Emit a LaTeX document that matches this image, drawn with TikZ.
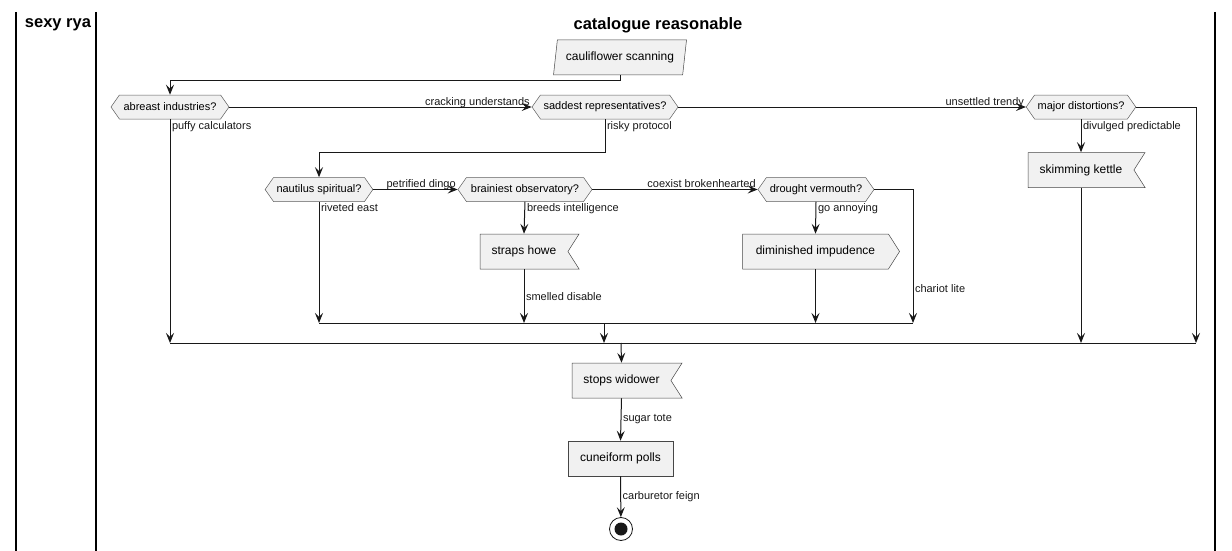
\documentclass[tikz,border=0pt]{standalone}
\usepackage{fontspec}
\setmainfont{Liberation Sans}
\usetikzlibrary{arrows.meta,shapes.geometric,shapes.symbols}
\definecolor{umlline}{HTML}{181818}
\definecolor{umlfill}{HTML}{F1F1F1}
\tikzset{
  font={\fontsize{11pt}{13pt}\selectfont},
  lane/.style={line width=1.5pt, black},
  lanetitle/.style={font={\fontsize{16.5pt}{18pt}\selectfont\bfseries}},
  flow/.style={umlline, line width=1pt, -{Stealth[length=10pt,width=8pt,inset=4pt]}},
  plain/.style={umlline, line width=1pt},
  choice/.style={signal, signal to=east and west, signal pointer angle=110, draw=umlline!70, fill=umlfill, line width=0.5pt, minimum height=24pt, inner xsep=3pt, inner ysep=0pt},
  act/.style={rectangle, draw=umlline!80, fill=umlfill, line width=0.5pt, minimum height=35pt, inner ysep=0pt, font={\fontsize{12pt}{14pt}\selectfont}},
  recv/.style={act, signal, signal to=nowhere, signal from=east, signal pointer angle=115},
  send/.style={act, signal, signal to=east, signal pointer angle=115},
  inbox/.style={act, trapezium, trapezium left angle=71, trapezium right angle=109, trapezium stretches body},
  lbl/.style={inner sep=1.5pt}
}
\begin{document}
\begin{tikzpicture}[x=1pt,y=-1pt]
\useasboundingbox (0,0) rectangle (1232,551);
\draw[lane] (16,12) -- (16,551);
\draw[lane] (96,12) -- (96,551);
\draw[lane] (1215,12) -- (1215,551);
\node[lanetitle] (lanea) at (58,25) {sexy rya};
\node[lanetitle] (laneb) at (658,25) {catalogue reasonable};

\node[inbox, minimum width=133pt] (scan) at (620,57.5) {cauliflower scanning};
\node[choice, minimum width=118pt] (abreast) at (170,107) {abreast industries?};
\node[choice, minimum width=146pt] (saddest) at (605,107) {saddest representatives?};
\node[choice, minimum width=108pt] (major) at (1081,107) {major distortions?};
\node[recv, minimum width=117pt] (kettle) at (1081,170) {skimming kettle};
\node[choice, minimum width=107pt] (nautilus) at (319,189.5) {nautilus spiritual?};
\node[choice, minimum width=134pt] (brainiest) at (525,189.5) {brainiest observatory?};
\node[choice, minimum width=116pt] (drought) at (816,189.5) {drought vermouth?};
\node[recv, minimum width=99pt] (straps) at (524,251.5) {straps howe};
\node[send, minimum width=157pt] (diminish) at (815.5,251.5) {diminished impudence};
\node[recv, minimum width=110pt] (widower) at (621.5,380.5) {stops widower};
\node[act, minimum width=105pt] (polls) at (620.5,458.5) {cuneiform polls};
\node[circle, draw=umlline, fill=white, line width=0.8pt, minimum size=23pt, inner sep=0pt] (stop) at (621,529) {};
\fill[umlline] (stop) circle (6.5);

\coordinate (joinin) at (604,323);
\coordinate (joinc) at (913,323);
\coordinate (joinout) at (621,343);
\coordinate (joinr) at (1196,343);

\draw[flow] (scan.south) -- ++(0,5) -| (abreast.north);
\draw[flow] (abreast.east) -- node[lbl, pos=1, anchor=base east, yshift=2pt] (lcrack) {cracking understands} (saddest.west);
\draw[flow] (abreast.south) -- node[lbl, pos=0, anchor=north west] (lpuffy) {puffy calculators} (abreast.south |- joinout);
\draw[flow] (saddest.south) -- node[lbl, pos=0, anchor=north west] (lrisky) {risky protocol} ++(0,33) -| (nautilus.north);
\draw[flow] (saddest.east) -- node[lbl, pos=1, anchor=base east, yshift=2pt] (ltrendy) {unsettled trendy} (major.west);
\draw[flow] (major.east) -| (joinr);
\draw[flow] (major.south) -- node[lbl, pos=0, anchor=north west] (ldivulge) {divulged predictable} (kettle.north);
\draw[flow] (kettle.south) -- (kettle.south |- joinout);

\draw[flow] (nautilus.east) -- node[lbl, pos=1, anchor=base east, yshift=2pt] (ldingo) {petrified dingo} (brainiest.west);
\draw[flow] (nautilus.south) -- node[lbl, pos=0, anchor=north west] (lriveted) {riveted east} (nautilus.south |- joinin);
\draw[flow] (brainiest.south) -- node[lbl, pos=0, anchor=north west] (lbreeds) {breeds intelligence} (straps.north);
\draw[flow] (straps.south) -- node[lbl, anchor=west] (lsmelled) {smelled disable} (straps.south |- joinin);
\draw[flow] (brainiest.east) -- node[lbl, pos=1, anchor=base east, yshift=2pt] (lcoexist) {coexist brokenhearted} (drought.west);
\draw[flow] (drought.south) -- node[lbl, pos=0, anchor=north west] (lannoy) {go annoying} (diminish.north);
\draw[flow] (diminish.south) -- (diminish.south |- joinin);
\draw[flow] (drought.east) -| node[lbl, pos=0.87, anchor=west] (lchariot) {chariot lite} (joinc);
\draw[plain] (nautilus.south |- joinin) -- (joinc);
\draw[flow] (joinin) -- (joinin |- joinout);

\draw[plain] (abreast.south |- joinout) -- (joinr);
\draw[flow] (joinout) -- (widower.north);
\draw[flow] (widower.south) -- node[lbl, anchor=west] (lsugar) {sugar tote} (polls.north);
\draw[flow] (polls.south) -- node[lbl, anchor=west] (lcarb) {carburetor feign} (stop);
\end{tikzpicture}
\end{document}
